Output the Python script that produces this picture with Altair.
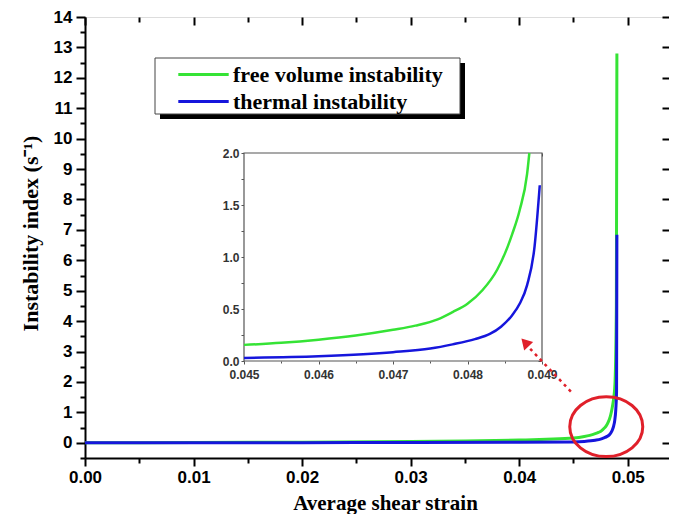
import altair as alt
import pandas as pd

# ---------------- data ----------------
series_names = ["free volume instability", "thermal instability"]
series_colors = ["#35e335", "#1616dc"]

green_x = [0.0, 0.01, 0.02, 0.03, 0.035, 0.04, 0.0425, 0.045, 0.0455, 0.046, 0.0465,
           0.047, 0.0473, 0.0476, 0.0478, 0.048, 0.0482, 0.0484, 0.0485, 0.0486,
           0.0487, 0.0488, 0.04883, 0.04895, 0.0490]
green_y = [0.0, 0.01, 0.02, 0.04, 0.06, 0.09, 0.115, 0.155, 0.175, 0.205, 0.245,
           0.30, 0.34, 0.40, 0.47, 0.55, 0.68, 0.88, 1.03, 1.22,
           1.45, 1.8, 2.0, 4.5, 12.8]

blue_x = [0.0, 0.02, 0.03, 0.04, 0.045, 0.046, 0.0466, 0.047, 0.0475, 0.0478, 0.0481,
          0.0483, 0.04845, 0.0486, 0.0487, 0.0488, 0.0489, 0.04897, 0.0490]
blue_y = [0.0, 0.005, 0.01, 0.02, 0.03, 0.045, 0.065, 0.085, 0.12, 0.16, 0.21,
          0.26, 0.33, 0.44, 0.55, 0.73, 1.1, 1.69, 6.84]

x_major = [0.0, 0.01, 0.02, 0.03, 0.04, 0.05]
x_minor = [0.005, 0.015, 0.025, 0.035, 0.045]
y_major = list(range(0, 15))
y_minor = [v + 0.5 for v in range(-1, 14)]

inset_x_major = [0.045, 0.046, 0.047, 0.048, 0.049]
inset_x_all = [0.045, 0.0455, 0.046, 0.0465, 0.047, 0.0475, 0.048, 0.0485, 0.049]
inset_x_minor = [0.0455, 0.0465, 0.0475, 0.0485]
inset_y_major = [0.0, 0.5, 1.0, 1.5, 2.0]
inset_y_minor = [0.25, 0.75, 1.25, 1.75]
inset_y_all = [0.0, 0.25, 0.5, 0.75, 1.0, 1.25, 1.5, 1.75, 2.0]

# annotation: red ellipse and dotted arrow (data units of the main plot)
ellipse_x = [0.04802]
ellipse_y = [0.53]
arrow_x = [0.04488, 0.04101]
arrow_y = [1.64, 3.09]
arrow_head_x = [0.04065]
arrow_head_y = [3.26]

# ---------------- tables ----------------
df = pd.DataFrame({
    "x": green_x + blue_x,
    "y": green_y + blue_y,
    "series": [series_names[0]] * len(green_x) + [series_names[1]] * len(blue_x),
})
ell_df = pd.DataFrame({"x": ellipse_x, "y": ellipse_y})
arr_df = pd.DataFrame({"x": arrow_x, "y": arrow_y})
head_df = pd.DataFrame({"x": arrow_head_x, "y": arrow_head_y})
frame_df = pd.DataFrame({"x": [inset_x_major[0]], "x2": [inset_x_major[-1]],
                         "y": [inset_y_major[0]], "y2": [inset_y_major[-1]]})
one_df = pd.DataFrame({"a": [0]})

W, H = 584, 441
X_MAIN = alt.Scale(domain=[0, 0.0538], nice=False, zero=False)
Y_MAIN = alt.Scale(domain=[-0.5, 14], nice=False, zero=False)
X_IN = alt.Scale(domain=[0.045, 0.049], range=[159, 457], nice=False, zero=False)
Y_IN = alt.Scale(domain=[0, 2], range=[344, 136], nice=False, zero=False)

SERIF = "Liberation Serif"
SANS = "Liberation Sans"

color = alt.Color("series:N", scale=alt.Scale(domain=series_names, range=series_colors),
                  legend=alt.Legend(orient="none", legendX=103, legendY=42, title=None,
                                    symbolType="M-1.8,0L1.8,0", symbolSize=784,
                                    symbolStrokeWidth=3, labelFont=SERIF,
                                    labelFontWeight="bold", labelFontSize=22,
                                    labelColor="black", labelOffset=14, rowPadding=0,
                                    padding=0, labelLimit=400))
color_nolegend = alt.Color("series:N", scale=alt.Scale(domain=series_names, range=series_colors),
                           legend=None)

AX = dict(grid=False, domainColor="black", tickColor="black", labelColor="black",
          labelFont=SANS, labelFontWeight="bold", labelFontSize=17,
          tickWidth=2, domainWidth=2)
BL = dict(grid=False, labels=False, domain=False, tickColor="black", tickWidth=2, title=None)
IN = dict(grid=False, tickColor="#555", tickWidth=1, labelColor="#333",
          labelFont=SANS, labelFontWeight="bold", labelFontSize=12,
          domain=False, title=None)
INB = dict(grid=False, labels=False, domain=False, tickColor="#555", tickWidth=1, title=None)

base = alt.Chart(df)

main_lines = base.mark_line(strokeWidth=3, interpolate="monotone").encode(
    x=alt.X("x:Q", scale=X_MAIN, axis=alt.Axis(
        orient="bottom", values=x_major, format=".2f", tickSize=8, labelPadding=3,
        labelFlush=False, title="Average shear strain", titleFont=SERIF,
        titleFontWeight="bold", titleFontSize=21, titleColor="black",
        titleX=300, titleY=51, titleBaseline="alphabetic", **AX)),
    y=alt.Y("y:Q", scale=Y_MAIN, axis=alt.Axis(
        orient="left", values=y_major, format="d", tickSize=9, labelPadding=4,
        title="Instability index (s\u207b\u00b9)", titleFont=SERIF,
        titleFontWeight="bold", titleFontSize=22, titleColor="black",
        titleX=-48, titleY=216, titleAngle=270, titleBaseline="alphabetic", **AX)),
    color=color,
)

main_minor = base.mark_point(opacity=0).encode(
    x=alt.X("x:Q", scale=X_MAIN, axis=alt.Axis(orient="bottom", values=x_minor, tickSize=5, **BL)),
    y=alt.Y("y:Q", scale=Y_MAIN, axis=alt.Axis(orient="left", values=y_minor, tickSize=5, **BL)),
)
main_mirror = base.mark_point(opacity=0).encode(
    x=alt.X("x:Q", scale=X_MAIN, axis=alt.Axis(orient="top", values=x_major, tickSize=8, offset=-8, **BL)),
    y=alt.Y("y:Q", scale=Y_MAIN, axis=alt.Axis(orient="right", values=y_major, tickSize=7, offset=-7, **BL)),
)
main_mirror_minor = base.mark_point(opacity=0).encode(
    x=alt.X("x:Q", scale=X_MAIN, axis=alt.Axis(orient="top", values=x_minor, tickSize=5, offset=-5, **BL)),
    y=alt.Y("y:Q", scale=Y_MAIN, axis=None),
)

shadow = alt.Chart(one_df).mark_rect(fill="black").encode(
    x=alt.value(75), x2=alt.value(380), y=alt.value(46), y2=alt.value(102))
box = alt.Chart(one_df).mark_rect(fill="white", stroke="#444", strokeWidth=1).encode(
    x=alt.value(70), x2=alt.value(375), y=alt.value(41), y2=alt.value(97))

ellipse = alt.Chart(ell_df).mark_point(
    shape="M-1,0A1,0.82,0,1,1,1,0A1,0.82,0,1,1,-1,0", size=5329, filled=False,
    stroke="#e0202a", strokeWidth=3, opacity=1).encode(
    x=alt.X("x:Q", scale=X_MAIN, axis=None), y=alt.Y("y:Q", scale=Y_MAIN, axis=None))

inset_frame = alt.Chart(frame_df).mark_rect(fill="white", stroke="#555", strokeWidth=1.2).encode(
    x=alt.X("x:Q", scale=X_IN, axis=None), x2="x2:Q",
    y=alt.Y("y:Q", scale=Y_IN, axis=None), y2="y2:Q")

inset_base = base.transform_filter(
    "datum.x >= 0.045 && datum.x <= 0.049 && datum.y <= 2.0001")

inset_lines = inset_base.mark_line(strokeWidth=2.5, interpolate="monotone").encode(
    x=alt.X("x:Q", scale=X_IN, axis=alt.Axis(orient="bottom", offset=-97, values=inset_x_major,
                                             format=".3f", tickSize=3, labelPadding=5,
                                             labelFlush=False, **IN)),
    y=alt.Y("y:Q", scale=Y_IN, axis=alt.Axis(orient="left", offset=-159, values=inset_y_major,
                                             format=".1f", tickSize=3, labelPadding=2,
                                             labelFlush=False, **IN)),
    color=color_nolegend,
)
inset_minor = inset_base.mark_point(opacity=0).encode(
    x=alt.X("x:Q", scale=X_IN, axis=alt.Axis(orient="bottom", offset=-97, values=inset_x_minor,
                                             tickSize=2, **INB)),
    y=alt.Y("y:Q", scale=Y_IN, axis=alt.Axis(orient="left", offset=-159, values=inset_y_minor,
                                             tickSize=3, **INB)),
)
inset_mirror = inset_base.mark_point(opacity=0).encode(
    x=alt.X("x:Q", scale=X_IN, axis=alt.Axis(orient="top", offset=-139, values=inset_x_all,
                                             tickSize=3, **INB)),
    y=alt.Y("y:Q", scale=Y_IN, axis=alt.Axis(orient="right", offset=453 - W, values=inset_y_all,
                                             tickSize=3, **INB)),
)

arrow = alt.Chart(arr_df).mark_line(stroke="#e0202a", strokeWidth=2.5, strokeDash=[3, 4]).encode(
    x=alt.X("x:Q", scale=X_MAIN, axis=None), y=alt.Y("y:Q", scale=Y_MAIN, axis=None))
arrow_head = alt.Chart(head_df).mark_point(shape="triangle", filled=True, size=150, angle=317,
                                           color="#e0202a", opacity=1).encode(
    x=alt.X("x:Q", scale=X_MAIN, axis=None), y=alt.Y("y:Q", scale=Y_MAIN, axis=None))

chart = alt.layer(
    main_lines, main_minor, main_mirror, main_mirror_minor,
    shadow, box, ellipse,
    inset_frame, inset_lines, inset_minor, inset_mirror,
    arrow, arrow_head,
).resolve_scale(x="independent", y="independent").properties(
    width=W, height=H,
    autosize=alt.AutoSizeParams(type="none"),
    padding={"left": 77, "top": 9, "right": 0, "bottom": 56},
).configure_view(stroke="black", strokeWidth=2).configure(background="white")

chart.save("out.html", embed_options={"renderer": "svg", "actions": False})
